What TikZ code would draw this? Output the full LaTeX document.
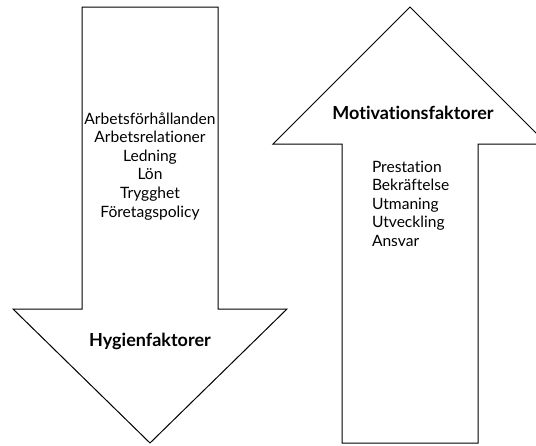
\documentclass[tikz,border=0pt]{standalone}
\usepackage{fontspec}
\setmainfont{Lato}[Ligatures=CommonOff]
\usetikzlibrary{positioning}

\begin{document}
\begin{tikzpicture}[x=1pt, y=-1pt, line width=1pt, node distance={18.6pt},
        item/.style = {inner sep=0pt, text height=11pt, text depth=3pt, font=\fontsize{15.6}{18}\selectfont},
        mitem/.style = {item, text width=100pt, align=left},
        title/.style = {inner sep=0pt, font=\fontsize{18}{21}\selectfont\bfseries}]
        \useasboundingbox (0,0) rectangle (536,445);
        \clip (0,0) rectangle (536,445);

        % pil ned
        \draw (82,7) -- (218,7) -- (218,309) -- (287,309) -- (150,443) -- (13,309) -- (82,309) -- cycle;
        % pil upp
        \draw (342,443) -- (342,144) -- (273,144) -- (410,7) -- (547,144) -- (478,144) -- (478,443) -- cycle;

        \node[title] (hyg) at (150,341) {Hygienfaktorer};
        \node[title] (mot) at (413,113) {Motivationsfaktorer};

        \node[item] (h1) at (150,120) {Arbetsförhållanden};
        \node[item] (h2) [below of = h1] {Arbetsrelationer};
        \node[item] (h3) [below of = h2] {Ledning};
        \node[item] (h4) [below of = h3] {Lön};
        \node[item] (h5) [below of = h4] {Trygghet};
        \node[item] (h6) [below of = h5] {Företagspolicy};

        \node[mitem] (m1) at (422,168) {Prestation};
        \node[mitem] (m2) [below of = m1] {Bekräftelse};
        \node[mitem] (m3) [below of = m2] {Utmaning};
        \node[mitem] (m4) [below of = m3] {Utveckling};
        \node[mitem] (m5) [below of = m4] {Ansvar};

    \end{tikzpicture}
\end{document}
